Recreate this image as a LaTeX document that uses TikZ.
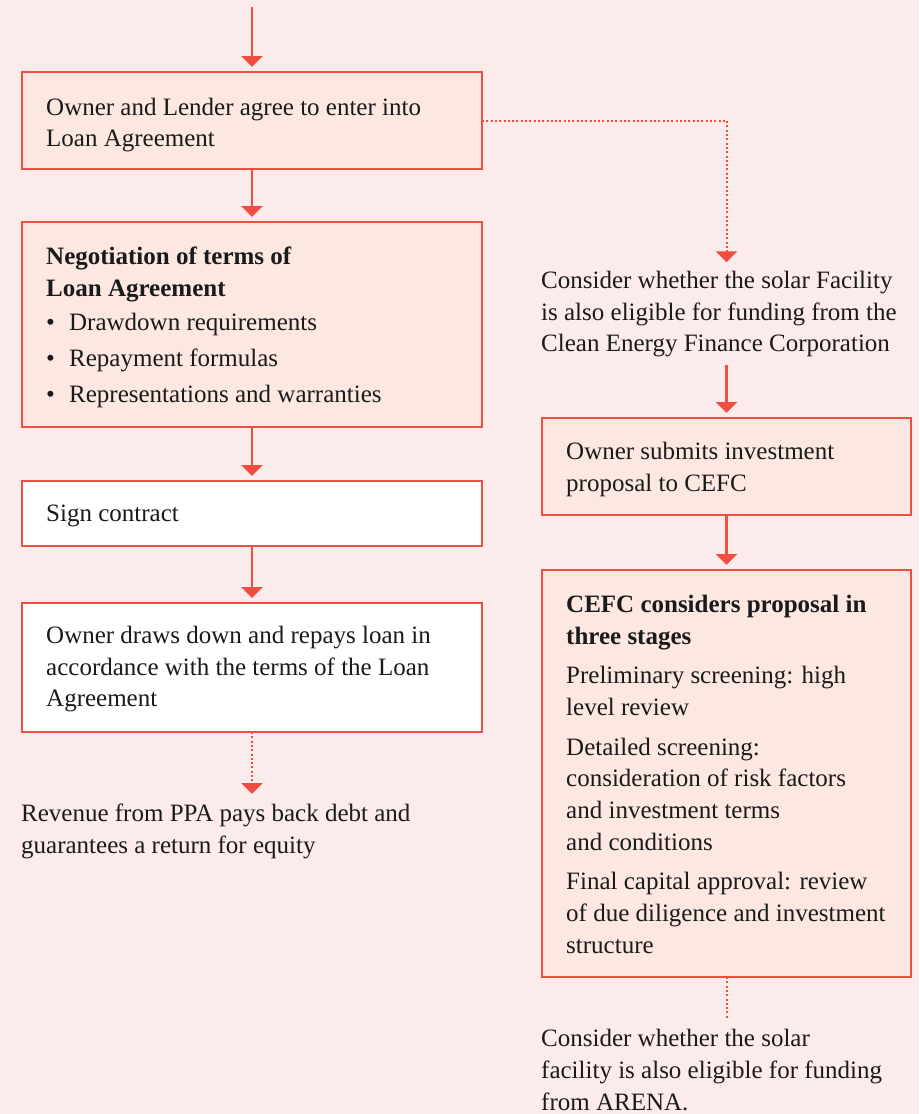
\documentclass[tikz,border=0pt]{standalone}
\usepackage{fontspec}
\setmainfont{Liberation Serif}
\usetikzlibrary{arrows.meta}
\definecolor{bgc}{HTML}{FCEBEB}
\definecolor{peach}{HTML}{FDE7E1}
\definecolor{redc}{HTML}{F04E40}
\definecolor{ink}{HTML}{1A1A1A}
\newcommand\bodyfont{\fontsize{25}{31.7}\selectfont}
\newcommand\bul{\makebox[23pt][l]{•}}
\tikzset{
  boxshape/.style={draw=redc, line width=2.5pt, rectangle, inner sep=0pt, outer sep=0pt, anchor=north west},
  peachbox/.style={boxshape, fill=peach},
  whitebox/.style={boxshape, fill=white},
  txt/.style={anchor=base west, inner sep=0pt, align=left, font=\bodyfont, text=ink},
  arr/.style={draw=redc, line width=2.5pt, -{Triangle[length=11pt,width=21pt]}, shorten >=5pt},
  dotline/.style={draw=redc, line width=2pt, dash pattern=on 2pt off 2.3pt},
  dotarr/.style={dotline, -{Triangle[length=11pt,width=21pt]}}
}
\begin{document}
\begin{tikzpicture}[x=1pt,y=-1pt]
\fill[bgc] (0,0) rectangle (919,1114);
\useasboundingbox (0,0) rectangle (919,1114);

% boxes
\node[peachbox, minimum width=460pt, minimum height=97pt] (b1) at (22,72) {};
\node[peachbox, minimum width=460pt, minimum height=205pt] (b2) at (22,222) {};
\node[whitebox, minimum width=460pt, minimum height=65pt] (b3) at (22,481) {};
\node[whitebox, minimum width=460pt, minimum height=129pt] (b4) at (22,603) {};
\node[peachbox, minimum width=369pt, minimum height=97pt] (b5) at (542,418) {};
\node[peachbox, minimum width=369pt, minimum height=407pt] (b6) at (542,570) {};

% texts (anchored at the baseline of their last line)
\node[txt] (t1) at (46,146.7) {Owner and Lender agree to enter into\\Loan Agreement};
\node[txt] (t2) at (46,402.7) {\textbf{Negotiation of terms of}\\\textbf{Loan Agreement}\\[3pt]\bul Drawdown requirements\\[4.3pt]\bul Repayment formulas\\[4.3pt]\bul Representations and warranties};
\node[txt] (t3) at (46,521.7) {Sign contract};
\node[txt] (t4) at (46,706.7) {Owner draws down and repays loan in\\accordance with the terms of the Loan\\Agreement};
\node[txt] (t5) at (21,853.3) {Revenue from PPA pays back debt and\\guarantees a return for equity};
\node[txt] (r1) at (541,351.7) {Consider whether the solar Facility\\is also eligible for funding from the\\Clean Energy Finance Corporation};
\node[txt] (r2) at (566,491) {Owner submits investment\\proposal to CEFC};
\node[txt] (r3) at (566,953.3) {\textbf{CEFC considers proposal in}\\\textbf{three stages}\\[8pt]Preliminary screening: high\\level review\\[8pt]Detailed screening:\\consideration of risk factors\\and investment terms\\and conditions\\[8pt]Final capital approval: review\\of due diligence and investment\\structure};
\node[txt] (r4) at (541,1110) {Consider whether the solar\\facility is also eligible for funding\\from ARENA.};

% connector end points
\coordinate (top) at (252,7);
\coordinate (c1) at (252,794);
\coordinate (c2) at (726.5,262.3);
\coordinate (c3) at (726.5,365);
\coordinate (c4) at (726.5,1018);

% connectors
\draw[arr] (top) -- (b1.north);
\draw[arr] (b1.south) -- (b2.north);
\draw[arr] (b2.south) -- (b3.north);
\draw[arr] (b3.south) -- (b4.north);
\draw[dotarr] (b4.south) -- (c1);
\draw[dotarr] (b1.east) -| (c2);
\draw[arr] (c3) -- (b5.north);
\draw[arr] (b5.south) -- (b6.north);
\draw[dotline] (b6.south) -- (c4);
\end{tikzpicture}
\end{document}
